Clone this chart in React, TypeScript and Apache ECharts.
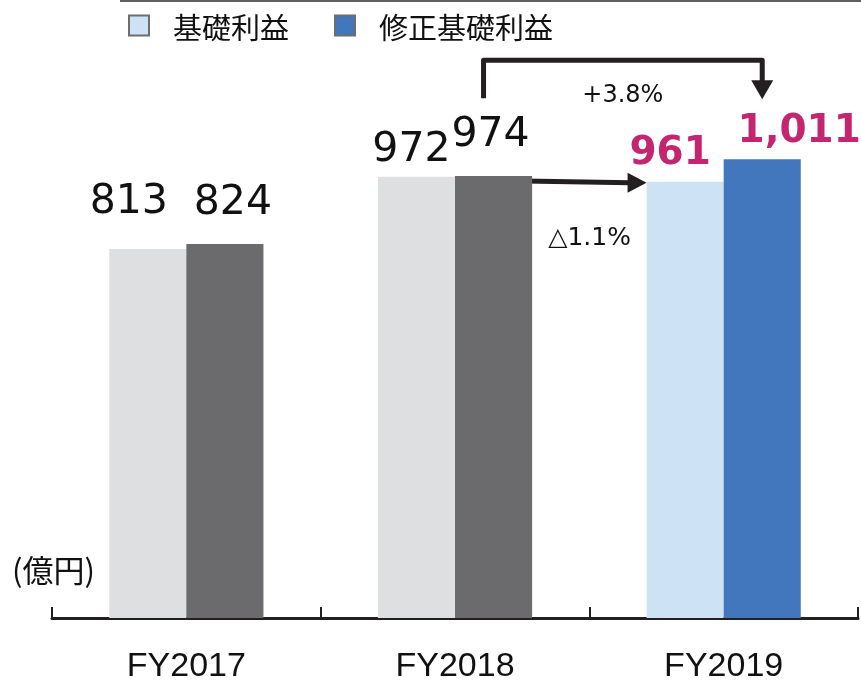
import React, { useEffect, useRef } from "react";
import * as echarts from "echarts";

const categories = ["FY2017", "FY2018", "FY2019"];
const baseProfit = [813, 972, 961];
const adjustedProfit = [824, 974, 1011];
const seriesNames = ["基礎利益", "修正基礎利益"];
const unitLabel = "(億円)";
const growthAdjusted = "+3.8%";
const growthBase = "△1.1%";

const baseColors = ["#dedfe1", "#dedfe1", "#cde3f5"];
const adjColors = ["#6b6b6d", "#6b6b6d", "#4276bd"];
const labelColors = ["#111111", "#111111", "#c3256f"];
const baseOffsets = [[-19, -30], [-5, -10], [-15, -11]];
const adjOffsets = [[8, -24], [-3, -24], [37, -11]];

const fmt = (v: number) => v.toLocaleString("en-US");

export default function App() {
  const ref = useRef<HTMLDivElement>(null);
  useEffect(() => {
    if (!ref.current) return;
    const chart = echarts.init(ref.current, null, { renderer: "svg" });
    const mkLabel = (i: number, off: number[]) => ({
      show: true,
      position: "top",
      distance: 0,
      offset: off,
      fontFamily: "DejaVu Sans",
      fontSize: i === 2 ? 39 : 41,
      fontWeight: i === 2 ? "bold" : "normal",
      color: labelColors[i],
      lineHeight: 40,
      formatter: (p: any) => fmt(p.value),
    });
    chart.setOption({
      animation: false,
      legend: {
        left: 128,
        top: 11,
        padding: 0,
        itemWidth: 20,
        itemHeight: 20,
        itemGap: 45,
        icon: "rect",
        selectedMode: false,
        textStyle: {
          fontFamily: "Noto Sans CJK JP",
          fontSize: 29,
          color: "#111",
          padding: [0, 0, 0, 19],
        },
        data: [
          { name: seriesNames[0], itemStyle: { color: baseColors[2], borderColor: "#6d6d6d", borderWidth: 2 } },
          { name: seriesNames[1], itemStyle: { color: adjColors[2], borderColor: "#6d6d6d", borderWidth: 2 } },
        ],
      },
      grid: { left: 52, right: 3, top: 28, bottom: 64 },
      xAxis: {
        type: "category",
        data: categories,
        axisLine: { lineStyle: { color: "#231f20", width: 3 } },
        axisTick: { show: true, inside: true, length: 11, lineStyle: { color: "#231f20", width: 2 } },
        axisLabel: { fontFamily: "Liberation Sans", fontSize: 34, lineHeight: 34, color: "#111", margin: 29 },
      },
      yAxis: { type: "value", show: false, min: 0, max: 1300, splitLine: { show: false } },
      series: [
        {
          name: seriesNames[0],
          type: "bar",
          barWidth: "28.7%",
          barGap: "0%",
          itemStyle: { color: baseColors[2] },
          data: baseProfit.map((v, i) => ({
            value: v,
            itemStyle: { color: baseColors[i] },
            label: mkLabel(i, baseOffsets[i]),
          })),
        },
        {
          name: seriesNames[1],
          type: "bar",
          barWidth: "28.7%",
          barGap: "0%",
          itemStyle: { color: adjColors[2] },
          data: adjustedProfit.map((v, i) => ({
            value: v,
            itemStyle: { color: adjColors[i] },
            label: mkLabel(i, adjOffsets[i]),
          })),
        },
      ],
    });

    const px = (i: number, v: number) => chart.convertToPixel({ gridIndex: 0 }, [i, v]) as number[];
    const band = px(1, 0)[0] - px(0, 0)[0];
    const bw = band * 0.287;
    const c1 = px(1, 0)[0];
    const c2 = px(2, 0)[0];
    const y974 = px(1, adjustedProfit[1])[1];
    const y961 = px(2, baseProfit[2])[1];
    const y1011 = px(2, adjustedProfit[2])[1];
    const dark = "#231f20";

    const bx0 = c1 + bw / 2 - 10;
    const bx1 = c2 + bw / 2;
    const bTop = y1011 - 99;
    const tipY = y1011 - 60;

    const hx0 = c1;
    const hy0 = y974 + 4;
    const tipX = c2 - bw;
    const hy1 = y961 + 1;

    chart.setOption({
      graphic: [
        { type: "line", shape: { x1: 120, y1: 1, x2: 861, y2: 1 }, style: { stroke: "#5f5f5f", lineWidth: 2 } },
        {
          type: "polyline",
          shape: { points: [[bx0, bTop + 38], [bx0, bTop], [bx1, bTop], [bx1, tipY - 16]] },
          style: { stroke: dark, lineWidth: 5, fill: null, lineJoin: "round" },
        },
        {
          type: "polygon",
          shape: { points: [[bx1 - 11, tipY - 19], [bx1 + 11, tipY - 19], [bx1, tipY]] },
          style: { fill: dark },
        },
        {
          type: "line",
          shape: { x1: hx0, y1: hy0, x2: tipX - 16, y2: hy1 },
          style: { stroke: dark, lineWidth: 5 },
        },
        {
          type: "polygon",
          shape: { points: [[tipX - 19, hy1 - 10], [tipX - 19, hy1 + 10], [tipX, hy1]] },
          style: { fill: dark },
        },
        {
          type: "text",
          x: (bx0 + bx1) / 2,
          y: bTop + 34,
          style: { text: growthAdjusted, fontFamily: "DejaVu Sans", fontSize: 24, fill: "#111", align: "center", verticalAlign: "middle" },
        },
        {
          type: "text",
          x: tipX - 57,
          y: y961 + 55,
          style: { text: growthBase, fontFamily: "DejaVu Sans", fontSize: 25, fill: "#111", align: "center", verticalAlign: "middle" },
        },
        {
          type: "text",
          x: 12,
          y: 568,
          style: { text: unitLabel, fontFamily: "Noto Sans CJK JP", fontSize: 31, fill: "#111", align: "left", verticalAlign: "middle" },
        },
      ],
    });
    return () => chart.dispose();
  }, []);
  return <div ref={ref} style={{ position: "fixed", left: 0, top: 0, width: 861, height: 682 }} />;
}
